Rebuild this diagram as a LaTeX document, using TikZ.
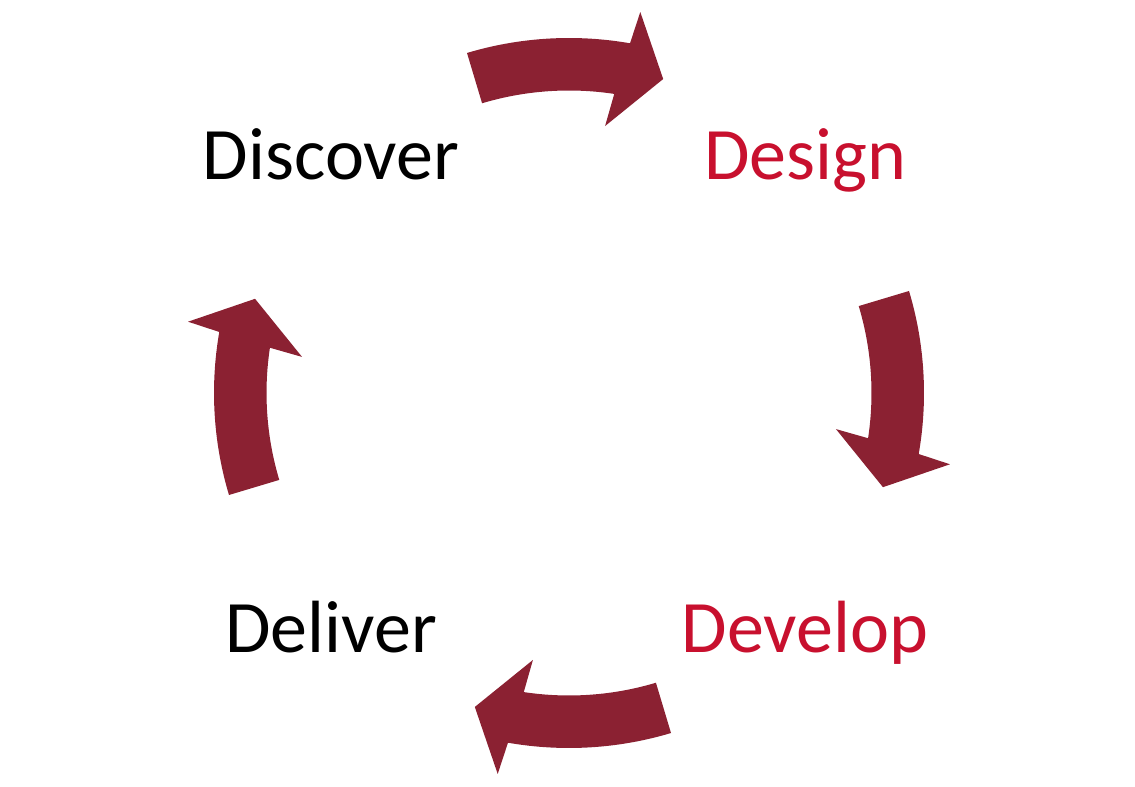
\documentclass[tikz,border=0pt]{standalone}
\usepackage{fontspec}
\setmainfont{Carlito}
\definecolor{arrowred}{RGB}{139,33,50}
\definecolor{textred}{RGB}{200,16,46}
\begin{document}
\begin{tikzpicture}[x=1pt,y=1pt,
  lbl/.style={font=\fontsize{74}{80}\selectfont, anchor=base, inner sep=0pt},
  cyc/.style={fill=arrowred, draw=none}]
\useasboundingbox (0,0) rectangle (1135,787);
\coordinate (c) at (569,394);
\foreach \r in {0,-90,-180,-270} {
  \begin{scope}[shift={(c)}, rotate=\r]
   \fill[cyc] (106.7:355) arc[start angle=106.7, end angle=80.1, radius=355]
     -- (79.4:387.6) -- (73.3:327.8) -- (82.3:269.4) -- (81.4:302.5)
     arc[start angle=81.4, end angle=106.7, radius=302.5] -- cycle;
  \end{scope}
}
\node[lbl] (discover) at (331,607) {Discover};
\node[lbl, text=textred] (design) at (805,607) {Design};
\node[lbl, text=textred] (develop) at (805,134) {Develop};
\node[lbl] (deliver) at (331,134) {Deliver};
\end{tikzpicture}
\end{document}
